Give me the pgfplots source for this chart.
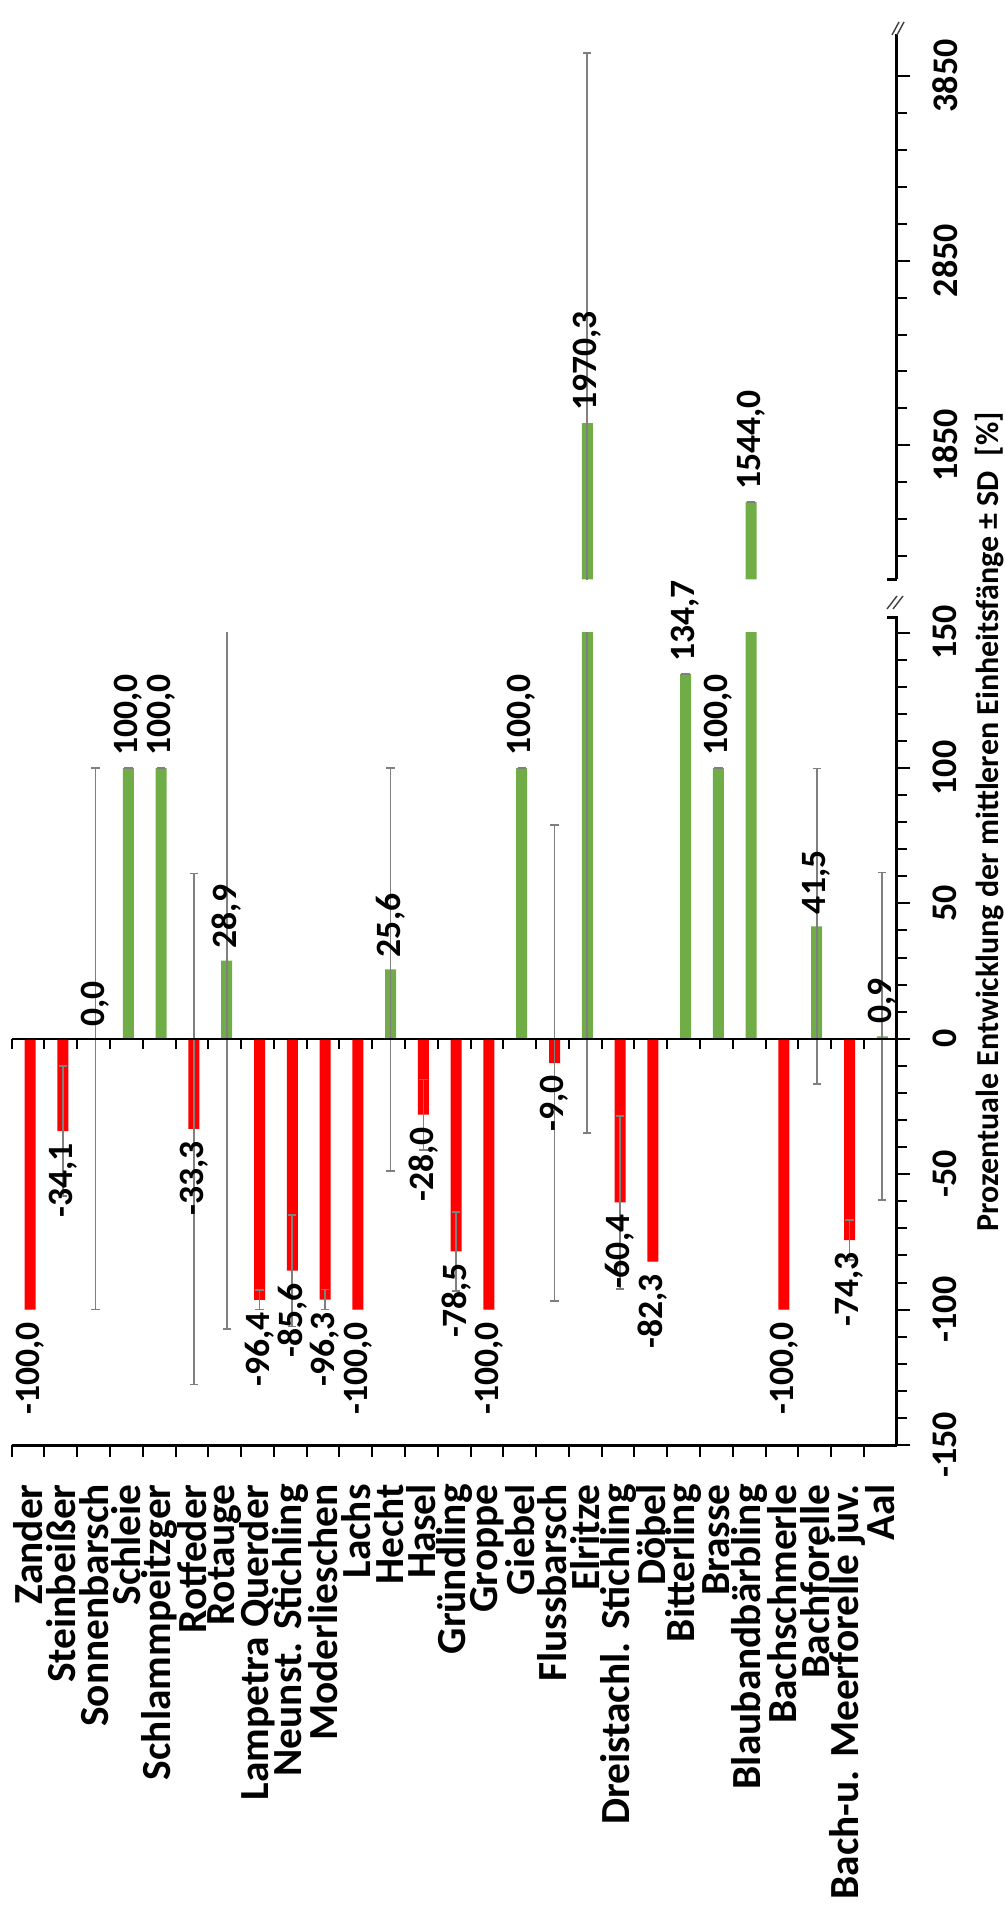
\documentclass[border=0pt]{standalone}
\usepackage{fontspec}
\setmainfont{Carlito}
\usepackage{pgfplots}
\usepackage{pgfplotstable}
\pgfplotsset{compat=1.18}
\definecolor{barred}{HTML}{FF0000}
\definecolor{bargreen}{HTML}{70AD47}
\definecolor{errgray}{HTML}{7F7F7F}
\newcommand\catfont{\fontsize{20.7}{24}\selectfont\bfseries}
\newcommand\labfont{\fontsize{17.8}{20}\selectfont\bfseries}
\newcommand\tickfont{\fontsize{18}{20}\selectfont\bfseries}
\newcommand\titlefont{\fontsize{16}{18}\selectfont\bfseries}

\pgfplotstableread{
i v e lab
0 -100.0 0 -100,0
1 -34.1 24 -34,1
5 -33.3 94.3 -33,3
7 -96.4 3.6 -96,4
8 -85.6 20.6 -85,6
9 -96.3 3.7 -96,3
10 -100.0 0 -100,0
12 -28.0 13 -28,0
13 -78.5 14.6 -78,5
14 -100.0 0 -100,0
16 -9.0 87.9 -9,0
18 -60.4 32 -60,4
19 -82.3 0 -82,3
23 -100.0 0 -100,0
25 -74.3 7.3 -74,3
}\negtab

\pgfplotstableread{
i v e lab
2 0.0 100 0,0
3 100.0 0 100,0
4 100.0 0 100,0
6 28.9 136 28,9
11 25.6 74.4 25,6
15 100.0 0 100,0
17 1970.3 2005 1970,3
20 134.7 0 134,7
21 100.0 0 100,0
22 1544.0 0 1544,0
24 41.5 58.3 41,5
26 0.9 60.5 0,9
}\postab

% the two values that reach into the upper (broken) segment
\pgfplotstableread{
i v e lab
17 1970.3 2005 1970,3
22 1544.0 0 1544,0
}\uptab

\pgfplotsset{
  common/.style={
    scale only axis, width=442.5pt, xmin=-0.5, xmax=26.5,
    clip mode=individual,
    axis y line*=right,
    axis line style={line width=1.5pt},
    tick align=outside,
    major tick length=6.5pt, minor tick length=5pt,
    tick style={black, line width=1pt},
    yticklabel style={font=\tickfont, rotate=90, anchor=north, inner sep=0pt},
    yticklabel shift=11.5pt,
    every axis plot/.append style={x filter/.expression={x+0.06}},
  },
  barstyle/.style={ybar, bar width=5.5pt, bar shift=0pt, draw=none, fill=#1,
    error bars/.cd, y dir=both, y explicit,
    error bar style={draw=errgray, line width=0.8pt},
    error mark options={rotate=90, draw=errgray, mark size=2.1pt, line width=0.8pt}},
  labbase/.style={only marks, mark=*, mark size=0pt,
    mark options={draw=none, fill=none},
    scatter/use mapped color={draw=none, fill=none},
    nodes near coords, point meta=explicit symbolic},
  poslab/.style={labbase,
    nodes near coords style={font=\labfont, text=black, rotate=90, anchor=west, inner xsep=6pt, inner ysep=0pt}},
  neglab/.style={labbase,
    nodes near coords style={font=\labfont, text=black, rotate=90, anchor=east, inner xsep=6pt, inner ysep=0pt}},
}

\begin{document}
\begin{tikzpicture}
\useasboundingbox (-5.85pt,-236pt) rectangle (496.65pt,722.5pt);

% lower segment
\begin{axis}[common, at={(0pt,0pt)}, anchor=south west, height=406.2pt,
  ymin=-150, ymax=150,
  axis x line*=bottom,
  xtick={0,...,26},
  xticklabels={Zander, Steinbeißer, Sonnenbarsch, Schleie, Schlammpeitzger, Rotfeder, Rotauge, Lampetra Querder, Neunst. Stichling, Moderlieschen, Lachs, Hecht, Hasel, Gründling, Groppe, Giebel, Flussbarsch, Elritze, Dreistachl. Stichling, Döbel, Bitterling, Brasse, Blaubandbärbling, Bachschmerle, Bachforelle, Bach-u. Meerforelle juv., Aal},
  xtick style={draw=none},
  xticklabel style={font=\catfont, rotate=90, anchor=east, inner sep=0pt},
  xticklabel shift=13pt,
  ytick={-150,-100,...,150},
  yticklabels={-150,-100,-50,0,50,100,150},
  minor ytick={-140,-130,...,140},
]
\addplot[barstyle=barred] table[x=i, y=v, y error=e]{\negtab};
\addplot[barstyle=bargreen] table[x=i, y=v, y error=e]{\postab};
\draw[line width=1pt] (axis cs:-0.5,0) -- (axis cs:26.5,0);
\pgfplotsinvokeforeach{-0.5,0.5,...,25.5}{
  \draw[line width=1pt] (axis cs:#1,0) -- ++(0pt,-5pt);
  \draw[line width=1pt] (axis cs:#1,-150) -- ++(0pt,-6pt);
}
\addplot[neglab, restrict y to domain=-151:151] table[x=i, y=v, meta=lab]{\negtab};
\addplot[poslab, restrict y to domain=-151:151] table[x=i, y=v, meta=lab]{\postab};
\end{axis}

% upper segment
\begin{axis}[common, at={(0pt,432.75pt)}, anchor=south west, height=272.75pt,
  ymin=1124, ymax=4076.8,
  axis x line=none,
  ytick={1850,2850,3850},
  yticklabels={1850,2850,3850},
  minor ytick={1250,1450,...,3650},
]
\addplot[barstyle=bargreen] table[x=i, y=v, y error=e]{\uptab};
\addplot[poslab] table[x=i, y=v, meta=lab]{\uptab};
\end{axis}

% axis break decorations
\draw[line width=1.5pt] (442.5pt,406.2pt) -- (442.5pt,413.5pt) -- (437.5pt,413.5pt);
\draw[line width=1.5pt] (442.5pt,432.75pt) -- (437.5pt,432.75pt);
\draw[line width=0.7pt, black!75] (437.65pt,418pt) -- (442.65pt,424.5pt) (440.65pt,418pt) -- (445.65pt,424.5pt);
\draw[line width=0.7pt, black!75] (440.15pt,705pt) -- (443.65pt,711.5pt) (442.65pt,705pt) -- (446.15pt,711.5pt);

\node[rotate=90, anchor=base, font=\titlefont] at (493.15pt,311.5pt) {Prozentuale Entwicklung der mittleren Einheitsfänge ± SD\ \ [\%]};
\end{tikzpicture}
\end{document}
